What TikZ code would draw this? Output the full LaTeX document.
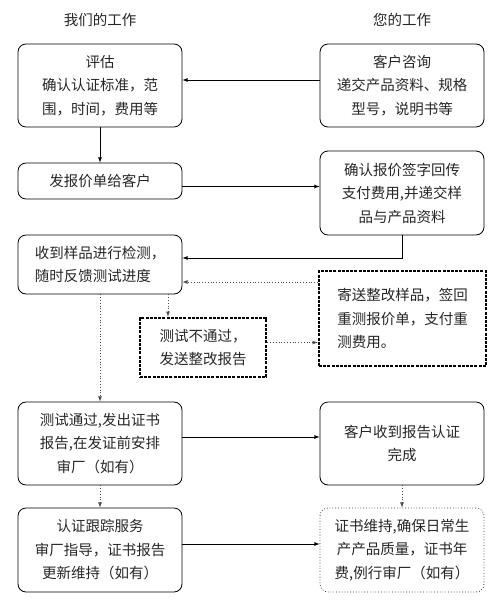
\documentclass[tikz,border=0pt]{standalone}
\usepackage{fontspec}
\newfontfamily\cjk{Noto Sans CJK SC}
\usepackage{tikz}
\usetikzlibrary{arrows, positioning}

\begin{document}
\begin{tikzpicture}[
  x=1pt, y=-1pt,
  every node/.style={font=\cjk\fontsize{14.5}{23.5}\selectfont, text=black!85},
  block/.style={draw, thick, rectangle, minimum width=164pt, minimum height=83pt,
                align=center, rounded corners=8pt, inner sep=0pt},
  dblock/.style={draw, line width=2.6pt, dash pattern=on 3pt off 1.2pt, rectangle,
                 align=left, inner sep=0pt},
  arrow/.style={->, >=latex, thick},
  dotarrow/.style={->, >=latex, draw=black!70, dotted, thick}
]
  \useasboundingbox (0,0) rectangle (500,600);

  % Titles
  \node (ours)  at (100,20) {我们的工作};
  \node (yours) at (402,20) {您的工作};

  % Left column
  \node[block] (eval) at (100,85.5) {评估\\确认认证标准，范\\围，时间，费用等};
  \node[block, minimum height=36pt] (quote) at (100,181) {发报价单给客户};
  \node[block, minimum height=59pt, align=left] (test) at (100,264.5) {收到样品进行检测，\\随时反馈测试进度};
  \node[block] (pass) at (100,443.5) {测试通过,发出证书\\报告,在发证前安排\\审厂（如有）};
  \node[block, minimum height=84pt] (follow) at (100,550) {认证跟踪服务\\审厂指导，证书报告\\更新维持（如有）};

  % Right column
  \node[block] (ask) at (402,85.5) {客户咨询\\递交产品资料、规格\\型号，说明书等};
  \node[block, minimum height=84pt] (confirm) at (402,193) {确认报价签字回传\\支付费用,并递交样\\品与产品资料};
  \node[dblock, minimum width=167pt, minimum height=95pt] (resend) at (402.5,318.5) {寄送整改样品，签回\\重测报价单，支付重\\测费用。};
  \node[block] (done) at (402,443.5) {客户收到报告认证\\完成};
  \node[block, minimum height=84pt, draw=black!80, dotted] (keep) at (402,550) {证书维持,确保日常生\\产产品质量，证书年\\费,例行审厂（如有）};

  % Failed test
  \node[dblock, minimum width=126pt, minimum height=59pt] (fail) at (203,347.5) {测试不通过，\\发送整改报告};

  % Arrows
  \draw[arrow] ([yshift=5.5pt]ask.west) -- ([yshift=5.5pt]eval.east);
  \draw[arrow] (eval) -- (quote);
  \draw[arrow] ([yshift=-5.5pt]quote.east) -- ([yshift=-5.5pt]quote.east -| confirm.west);
  \draw[arrow] (confirm.south) |- ([yshift=6.5pt]test.east);
  \draw[dotarrow] ([yshift=-17.5pt]test.east -| resend.west) -- ([yshift=-17.5pt]test.east);
  \draw[dotarrow] ([xshift=68pt]test.south) -- ([xshift=68pt]test.south |- fail.north);
  \draw[dotarrow] ([yshift=5pt]fail.east) -- ([yshift=5pt]fail.east -| resend.west);
  \draw[dotarrow] (test) -- (pass);
  \draw[arrow] ([yshift=6.5pt]pass.east) -- ([yshift=6.5pt]done.west);
  \draw[dotarrow] (pass) -- (follow);
  \draw[dotarrow] (done) -- (keep);
  \draw[arrow] ([yshift=6pt]follow.east) -- ([yshift=6pt]keep.west);
\end{tikzpicture}
\end{document}
